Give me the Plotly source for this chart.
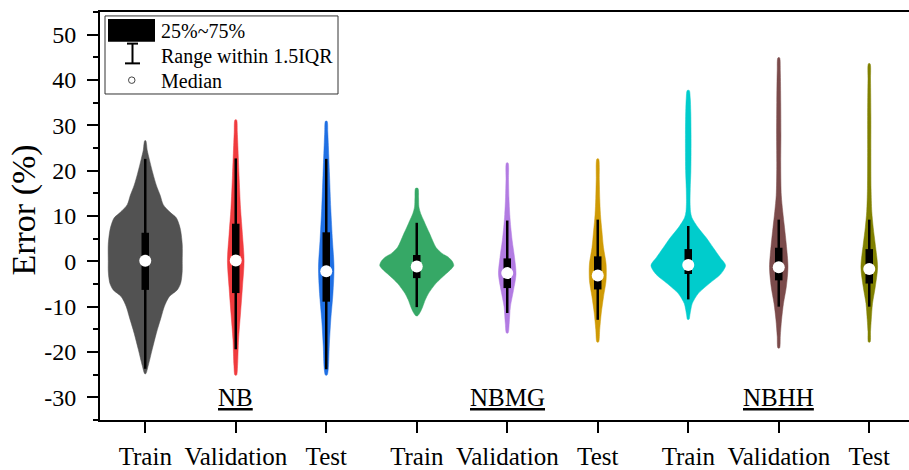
import plotly.graph_objects as go

# ---------------- data ----------------
GROUPS = ["NB", "NBMG", "NBHH"]
SETS = ["Train", "Validation", "Test"]
COLORS = ["#525252", "#F03B3E", "#1F6FE3",
          "#36A866", "#B27BE2", "#CF9A05",
          "#00CCCC", "#7B4B4B", "#808000"]

# violin outlines: error levels (%) and half-widths (category units)
LEVELS = [
    [26.6, 24.5, 22.6, 19.5, 16.8, 14.5, 12.5, 10.8, 9.6, 8.0, 6.7, 3.7, 0.0, -2.0, -3.5, -4.9, -6.3, -7.8, -10.0, -12.2, -15.9, -19.4, -23.0, -24.8],
    [31.2, 28.5, 26.2, 19.0, 11.7, 5.9, 0.1, -5.7, -11.4, -17.2, -23.0, -25.1],
    [30.9, 28.5, 26.2, 19.0, 11.7, 4.5, -1.3, -7.1, -12.9, -18.7, -23.8, -25.1],
    [16.1, 14.0, 12.0, 10.5, 9.0, 7.5, 5.9, 4.5, 3.0, 1.8, 0.9, 0.0, -0.9, -1.8, -2.8, -4.9, -7.1, -8.5, -10.0, -11.2, -12.0],
    [21.7, 18.0, 14.0, 10.3, 7.5, 4.5, 0.9, -2.8, -6.4, -10.0, -13.6, -15.8],
    [22.6, 18.0, 13.9, 10.3, 6.7, 3.0, -0.6, -4.2, -7.8, -11.4, -15.0, -17.8],
    [37.7, 36.0, 33.0, 28.0, 24.0, 20.0, 16.0, 13.0, 11.0, 9.6, 7.4, 5.2, 3.0, 0.9, -0.9, -2.8, -4.9, -7.1, -9.3, -10.7, -12.0, -12.8],
    [44.9, 42.0, 35.0, 28.0, 21.0, 14.6, 11.0, 7.4, 3.8, -1.3, -5.7, -9.3, -12.9, -16.5, -19.1],
    [43.6, 40.0, 32.0, 24.0, 16.0, 11.0, 7.4, 3.8, -1.3, -5.7, -9.3, -12.9, -15.5, -17.8],
]
DENSITY = [
    [0.006, 0.022, 0.044, 0.083, 0.122, 0.166, 0.199, 0.276, 0.343, 0.376, 0.392, 0.409, 0.409, 0.409, 0.403, 0.390, 0.354, 0.265, 0.210, 0.177, 0.122, 0.077, 0.033, 0.006],
    [0.009, 0.017, 0.022, 0.036, 0.053, 0.074, 0.092, 0.074, 0.053, 0.031, 0.020, 0.009],
    [0.009, 0.017, 0.022, 0.036, 0.050, 0.069, 0.086, 0.074, 0.050, 0.033, 0.022, 0.009],
    [0.013, 0.020, 0.024, 0.044, 0.077, 0.110, 0.147, 0.177, 0.215, 0.276, 0.350, 0.392, 0.409, 0.376, 0.320, 0.210, 0.129, 0.094, 0.066, 0.039, 0.011],
    [0.009, 0.014, 0.019, 0.028, 0.039, 0.055, 0.080, 0.097, 0.069, 0.035, 0.022, 0.009],
    [0.009, 0.017, 0.022, 0.030, 0.046, 0.064, 0.092, 0.092, 0.064, 0.039, 0.022, 0.009],
    [0.011, 0.022, 0.028, 0.031, 0.031, 0.029, 0.022, 0.020, 0.025, 0.041, 0.110, 0.199, 0.276, 0.350, 0.412, 0.359, 0.232, 0.110, 0.044, 0.028, 0.017, 0.009],
    [0.009, 0.017, 0.022, 0.024, 0.022, 0.028, 0.044, 0.064, 0.083, 0.102, 0.083, 0.052, 0.031, 0.017, 0.009],
    [0.009, 0.014, 0.018, 0.018, 0.020, 0.028, 0.044, 0.066, 0.092, 0.066, 0.036, 0.022, 0.014, 0.009],
]
Q1 = [-6.3, -7.0, -8.9, -3.7, -5.9, -6.2, -2.8, -4.2, -4.9]
Q3 = [6.3, 8.3, 6.4, 1.4, 0.65, 1.1, 2.7, 3.0, 2.7]
MEDIAN = [0.15, 0.2, -2.2, -1.15, -2.6, -3.1, -0.8, -1.3, -1.7]
WHISK_LO = [-23.7, -19.4, -23.8, -10.1, -11.4, -12.9, -8.4, -10.0, -10.0]
WHISK_HI = [22.6, 22.7, 22.6, 8.5, 9.0, 9.2, 7.8, 9.2, 9.2]

YTICKS = [-30, -20, -10, 0, 10, 20, 30, 40, 50]
YTICK_LABELS = [str(v) for v in YTICKS]
LEGEND_LABELS = ["25%~75%", "Range within 1.5IQR", "Median"]

# ---------------- figure ----------------
W, H = 909, 470
ML, MR, MT, MB = 100, 0, 12, 45
FONT = "Times New Roman, Liberation Serif, serif"

fig = go.Figure()
n = len(COLORS)
xpos = list(range(1, n + 1))
ticktext = [s for _ in GROUPS for s in SETS]

for i in range(n):
    c = xpos[i]
    lv = LEVELS[i]
    hw = DENSITY[i]
    xs = [c + w for w in hw] + [c - w for w in reversed(hw)] + [c + hw[0]]
    ys = lv + list(reversed(lv)) + [lv[0]]
    fig.add_trace(go.Scatter(x=xs, y=ys, mode="lines", fill="toself",
                             fillcolor=COLORS[i],
                             line=dict(color=COLORS[i], width=0.5, shape="spline", smoothing=0.8),
                             hoverinfo="skip", showlegend=False))

for i in range(n):
    c = xpos[i]
    fig.add_trace(go.Scatter(x=[c, c], y=[WHISK_LO[i], WHISK_HI[i]], mode="lines",
                             line=dict(color="black", width=2.5), showlegend=False))
    fig.add_trace(go.Scatter(x=[c, c], y=[Q1[i], Q3[i]], mode="lines",
                             line=dict(color="black", width=7.5), showlegend=False))
fig.add_trace(go.Scatter(x=xpos, y=MEDIAN, mode="markers",
                         marker=dict(symbol="circle", size=12, color="white",
                                     line=dict(color="white", width=0)),
                         showlegend=False))

# group labels
for g, name in enumerate(GROUPS):
    fig.add_annotation(x=3 * g + 2, y=-30.0, xref="x", yref="y",
                       text='<span style="text-decoration:underline">' + name + '</span>',
                       showarrow=False, font=dict(family=FONT, size=25, color="black"),
                       xanchor="center", yanchor="middle")

pw, ph = W - ML - MR, H - MT - MB
def px(x):
    return (x - ML) / pw
def py(y):
    return (H - MB - y) / ph

# axis title as annotation
fig.add_annotation(x=px(24), y=py(213), xref="paper", yref="paper",
                   text="Error (%)", textangle=-90, showarrow=False,
                   font=dict(family=FONT, size=34, color="black"),
                   xanchor="center", yanchor="middle")

# manual legend
shapes = []
shapes.append(dict(type="rect", xref="paper", yref="paper", x0=px(105), x1=px(338), y0=py(95), y1=py(16),
                   line=dict(color="#333333", width=1), fillcolor="white", layer="above"))
shapes.append(dict(type="rect", xref="paper", yref="paper", x0=px(108), x1=px(155), y0=py(42), y1=py(19),
                   line=dict(color="black", width=0), fillcolor="black", layer="above"))
shapes.append(dict(type="line", xref="paper", yref="paper", x0=px(132.5), x1=px(132.5), y0=py(64), y1=py(44),
                   line=dict(color="black", width=2), layer="above"))
shapes.append(dict(type="line", xref="paper", yref="paper", x0=px(127), x1=px(138), y0=py(44), y1=py(44),
                   line=dict(color="black", width=2), layer="above"))
shapes.append(dict(type="line", xref="paper", yref="paper", x0=px(125), x1=px(140), y0=py(64), y1=py(64),
                   line=dict(color="black", width=2), layer="above"))
shapes.append(dict(type="circle", xref="paper", yref="paper", x0=px(128.5), x1=px(135), y0=py(84.3), y1=py(77.7),
                   line=dict(color="#444444", width=1), fillcolor="white", layer="above"))
fig.update_layout(shapes=shapes)
for k, lab in enumerate(LEGEND_LABELS):
    fig.add_annotation(x=px(159), y=py(31.7 + 25 * k), xref="paper", yref="paper", text=lab,
                       showarrow=False, xanchor="left", yanchor="middle",
                       font=dict(family=FONT, size=20, color="black"))

fig.update_layout(
    width=W, height=H,
    margin=dict(l=ML, r=MR, t=MT, b=MB, pad=0),
    plot_bgcolor="white", paper_bgcolor="white",
    font=dict(family=FONT, color="black"),
    showlegend=False,
    xaxis=dict(range=[0.5, 0.5 + pw / 90.5], tickvals=xpos, ticktext=ticktext,
               showline=True, linecolor="black", linewidth=2, mirror=True,
               ticks="outside", ticklen=11, tickwidth=2, tickcolor="black",
               tickfont=dict(family=FONT, size=25, color="black"),
               ticklabelstandoff=2,
               showgrid=False, zeroline=False, fixedrange=True),
    yaxis=dict(range=[-35, 55], tickvals=YTICKS, ticktext=YTICK_LABELS,
               showline=True, linecolor="black", linewidth=2,
               ticks="outside", ticklen=11, tickwidth=2, tickcolor="black",
               tickfont=dict(family=FONT, size=24, color="black"),
               ticklabelstandoff=6,
               minor=dict(dtick=5, tick0=0, ticks="outside", ticklen=5, tickwidth=2, tickcolor="black"),
               showgrid=False, zeroline=False, fixedrange=True),
)

fig.write_html("out.html")
